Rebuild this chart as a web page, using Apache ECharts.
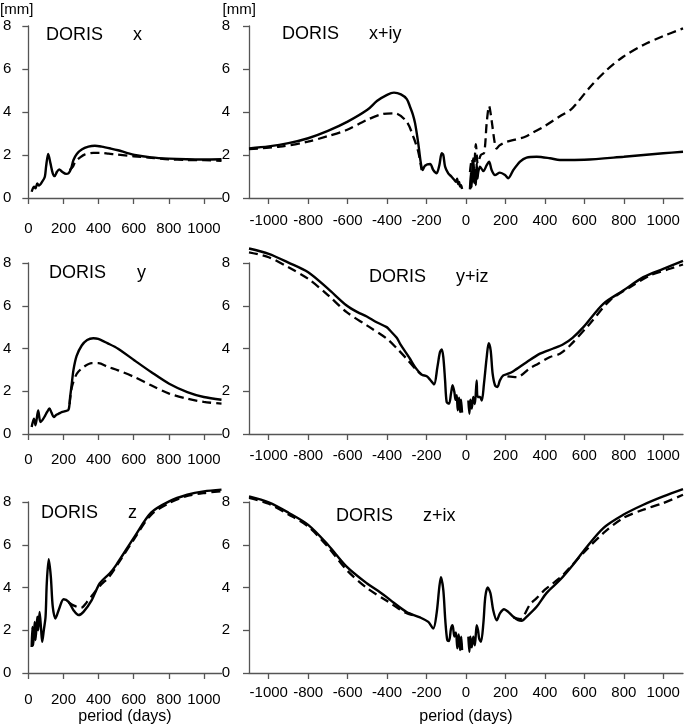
<!DOCTYPE html>
<html><head><meta charset="utf-8">
<script src="https://cdn.jsdelivr.net/npm/echarts@6/dist/echarts.min.js"></script>
<style>html,body{margin:0;padding:0;background:#fff}#c{width:685px;height:726px}</style>
</head><body><div id="c"></div>
<script>
// ---------- tick labels ----------
const leftTicks = [0, 200, 400, 600, 800, 1000];
const rightTicks = [-1000, -800, -600, -400, -200, 0, 200, 400, 600, 800, 1000];
const yMin = 0, yMax = 8, yStep = 2;
const panelTitles = ['x', 'x+iy', 'y', 'y+iz', 'z', 'z+ix'];

// ---------- DORIS x ----------
const xSolid = [[19,0.29],[32,0.53],[41,0.45],[51,0.68],[60,0.58],[79,0.76],[94,0.99],[101,1.46],[113,2.05],[126,1.61],[139,1.15],[150,1.02],[163,1.22],[176,1.33],[192,1.22],[215,1.12],[229,1.15],[244,1.38],[257,1.77],[276,2.05],[304,2.26],[342,2.39],[379,2.43],[417,2.39],[470,2.3],[511,2.22],[560,2.1],[605,2.0],[700,1.89],[800,1.83],[900,1.8],[1000,1.79],[1100,1.8]];
const xDashed = [[235,1.3],[254,1.46],[267,1.69],[295,1.89],[323,2.03],[370,2.1],[417,2.1],[458,2.06],[500,2.03],[600,1.94],[700,1.87],[800,1.8],[900,1.77],[1000,1.76],[1100,1.73]];

// ---------- DORIS x+iy ----------
const xySolidNeg = [[-1100,2.31],[-1000,2.4],[-900,2.55],[-800,2.78],[-700,3.12],[-600,3.55],[-500,4.1],[-450,4.52],[-400,4.8],[-365,4.9],[-330,4.82],[-300,4.6],[-284,4.25],[-270,3.9],[-258,3.47],[-242,2.54],[-230,1.69],[-220,1.3],[-208,1.5],[-182,1.58],[-166,1.3],[-149,1.15],[-135,1.53],[-123,2.08],[-115,2.0],[-106,1.46],[-90,1.15],[-73,0.99],[-60,0.85],[-50,0.75],[-45,0.9],[-40,0.65],[-35,0.75],[-30,0.53],[-25,0.6],[-20,0.42]];
const xySolidPos = [[20,0.4],[25,1.2],[28,0.5],[33,1.5],[37,1.85],[41,0.7],[45,1.3],[50,0.6],[54,1.61],[58,0.9],[62,1.2],[71,1.46],[88,1.25],[105,1.53],[117,1.69],[130,1.3],[147,1.07],[172,1.18],[198,1.07],[214,0.92],[240,1.3],[274,1.69],[307,1.88],[358,1.92],[426,1.85],[476,1.77],[600,1.78],[800,1.92],[1000,2.08],[1100,2.15]];
const xyDashedNeg = [[-1100,2.27],[-943,2.39],[-802,2.62],[-700,2.88],[-605,3.16],[-503,3.63],[-419,3.91],[-360,3.94],[-301,3.55],[-267,2.85],[-242,2.15],[-225,1.3]];
const xyDashedPos = [[20,1.2],[30,1.8],[40,1.4],[50,2.5],[60,1.6],[75,2.0],[92,2.1],[105,3.5],[117,4.28],[130,3.6],[145,2.6],[155,2.3],[170,2.45],[200,2.6],[250,2.72],[300,2.85],[340,3.05],[400,3.35],[476,3.8],[530,4.1],[561,4.4],[628,5.15],[713,5.95],[797,6.57],[899,7.12],[1000,7.53],[1100,7.89]];

// ---------- DORIS y ----------
const ySolid = [[19,0.33],[32,0.72],[41,0.41],[56,1.1],[69,0.56],[80,0.65],[95,0.85],[107,1.03],[120,1.19],[132,1.0],[145,0.79],[160,0.9],[173,0.95],[190,1.02],[210,1.07],[229,1.14],[238,1.73],[248,2.4],[257,3.0],[275,3.65],[304,4.14],[335,4.4],[370,4.48],[398,4.45],[450,4.25],[511,3.99],[605,3.44],[699,2.9],[802,2.35],[905,1.96],[999,1.73],[1100,1.6]];
const yDashed = [[235,1.4],[248,2.2],[276,2.82],[314,3.13],[361,3.32],[400,3.32],[450,3.15],[511,2.98],[605,2.66],[699,2.28],[802,1.89],[905,1.65],[999,1.5],[1100,1.42]];

// ---------- DORIS y+iz ----------
const yzSolidNeg = [[-1100,8.68],[-1000,8.43],[-900,8.02],[-800,7.57],[-700,6.8],[-605,6.01],[-550,5.7],[-503,5.5],[-453,5.23],[-402,5.0],[-385,4.84],[-351,4.5],[-334,4.22],[-301,3.76],[-284,3.52],[-258,3.13],[-225,2.78],[-199,2.7],[-182,2.54],[-162,2.32],[-145,3.13],[-132,3.83],[-123,3.96],[-115,3.6],[-106,2.51],[-98,1.5],[-86,1.42],[-76,1.89],[-68,2.28],[-59,1.96],[-53,1.6],[-47,1.81],[-42,1.11],[-35,1.7],[-30,1.03],[-25,1.6],[-20,1.0]];
const yzSolidPos = [[12,1.57],[17,0.95],[22,1.6],[29,1.19],[37,1.73],[45,1.4],[54,2.51],[59,1.73],[71,1.73],[80,1.57],[91,2.35],[105,3.6],[115,4.25],[125,3.91],[135,2.82],[147,2.28],[159,2.2],[172,2.51],[189,2.74],[214,2.82],[240,2.94],[307,3.36],[375,3.76],[442,4.0],[493,4.2],[540,4.5],[595,5.0],[696,6.09],[797,6.71],[899,7.34],[1000,7.73],[1100,8.1]];
const yzDashedNeg = [[-1100,8.5],[-1000,8.27],[-900,7.8],[-800,7.26],[-700,6.5],[-605,5.7],[-503,5.08],[-402,4.46],[-350,4.0],[-301,3.52],[-250,2.98],[-225,2.78]];
const yzDashedPos = [[210,2.7],[257,2.66],[324,3.08],[366,3.29],[426,3.6],[476,3.75],[527,4.14],[628,5.16],[730,6.25],[831,6.87],[933,7.42],[1034,7.73],[1100,7.93]];

// ---------- DORIS z ----------
const zSolid = [[19,1.22],[23,2.16],[28,1.3],[36,2.39],[41,1.54],[51,2.63],[56,2.0],[64,2.86],[73,2.0],[79,1.46],[88,2.0],[98,2.63],[105,4.2],[116,5.32],[128,4.51],[139,3.1],[154,2.55],[176,3.02],[201,3.45],[229,3.33],[257,2.94],[286,2.71],[314,2.86],[361,3.41],[407,4.2],[464,4.67],[500,5.05],[605,6.38],[699,7.5],[802,8.03],[905,8.34],[999,8.5],[1100,8.58]];
const zDashed = [[230,3.3],[260,3.15],[300,3.05],[332,3.3],[370,3.7],[410,4.1],[460,4.5],[510,5.1],[605,6.3],[699,7.4],[802,7.95],[905,8.28],[1000,8.42],[1100,8.5]];

// ---------- DORIS z+ix ----------
const zxSolidNeg = [[-1100,8.26],[-1000,7.98],[-900,7.5],[-800,6.93],[-700,6.0],[-605,4.98],[-503,4.2],[-436,3.78],[-402,3.55],[-368,3.3],[-301,2.85],[-233,2.6],[-191,2.39],[-166,2.08],[-149,2.79],[-135,4.04],[-127,4.48],[-115,3.88],[-105,2.47],[-95,1.54],[-86,1.5],[-76,2.08],[-68,2.24],[-59,1.7],[-51,1.9],[-44,1.15],[-37,1.8],[-30,1.07],[-24,1.7],[-20,1.07]];
const zxSolidPos = [[12,1.7],[17,0.99],[22,1.7],[29,1.2],[37,1.7],[45,1.3],[54,2.24],[61,2.0],[67,1.61],[76,1.46],[88,2.32],[98,3.57],[110,4.0],[124,3.73],[138,2.94],[156,2.47],[172,2.79],[193,2.98],[214,2.86],[240,2.63],[265,2.47],[282,2.44],[307,2.63],[358,3.1],[409,3.75],[476,4.35],[550,5.15],[595,5.7],[696,6.78],[797,7.4],[899,7.87],[1000,8.26],[1100,8.6]];
const zxDashedNeg = [[-1100,8.19],[-1000,7.92],[-900,7.42],[-800,6.85],[-700,5.9],[-605,4.82],[-503,3.98],[-402,3.38],[-343,3.02],[-301,2.8],[-250,2.66]];
const zxDashedPos = [[240,2.6],[274,2.52],[324,3.2],[358,3.5],[400,3.9],[442,4.2],[493,4.6],[595,5.62],[696,6.54],[797,7.25],[899,7.64],[1000,7.95],[1100,8.34]];

// ---------- layout ----------
const FONT = '"Liberation Sans", Arial, sans-serif';
const AXIS_COLOR = '#555';
const grids = [
  {left: 26, top: 26, width: 195.5, height: 172},
  {left: 249, top: 26, width: 434, height: 172},
  {left: 26, top: 263, width: 195.5, height: 171},
  {left: 249, top: 263, width: 434, height: 171},
  {left: 26, top: 502, width: 195.5, height: 171},
  {left: 249, top: 502, width: 434, height: 171}
];
const xLabelMargins = [23, 15, 18, 14, 19, 12.5];
const yLabelMargins = [17, 19, 17, 19, 17, 19];
const plain = v => String(v);

const xAxes = grids.map((g, i) => {
  const right = i % 2 === 1;
  const ticks = right ? rightTicks : leftTicks;
  return {
    type: 'value', gridIndex: i,
    min: right ? -1100 : 0, max: 1100,
    axisLine: {show: true, onZero: false, lineStyle: {color: AXIS_COLOR, width: 1.3}},
    axisTick: {show: true, length: 6, inside: false, customValues: ticks, lineStyle: {color: AXIS_COLOR, width: 1.3}},
    axisLabel: {show: true, customValues: ticks, formatter: plain, margin: xLabelMargins[i], fontSize: 15, fontFamily: FONT, color: '#000'},
    splitLine: {show: false},
    name: i >= 4 ? 'period (days)' : '',
    nameLocation: 'middle', nameGap: 36,
    nameTextStyle: {fontSize: 16, fontFamily: FONT, color: '#000'}
  };
});
const yAxes = grids.map((g, i) => ({
  type: 'value', gridIndex: i, min: yMin, max: yMax, interval: yStep,
  axisLine: {show: true, onZero: false, lineStyle: {color: AXIS_COLOR, width: 1.3}},
  axisTick: {show: true, length: 6, lineStyle: {color: AXIS_COLOR, width: 1.3}},
  axisLabel: {show: true, formatter: plain, margin: yLabelMargins[i], fontSize: 15, fontFamily: FONT, color: '#000'},
  splitLine: {show: false}
}));

function line(data, idx, dashed) {
  return {
    type: 'line', data: data, xAxisIndex: idx, yAxisIndex: idx,
    symbol: 'none', smooth: 0.3, clip: false, silent: true, animation: false,
    lineStyle: {color: '#000', width: dashed ? 2.3 : 2.4, type: dashed ? [9, 5] : 'solid'},
    z: dashed ? 2 : 3
  };
}
const series = [
  line(xDashed, 0, true), line(xSolid, 0, false),
  line(xyDashedNeg, 1, true), line(xyDashedPos, 1, true), line(xySolidNeg, 1, false), line(xySolidPos, 1, false),
  line(yDashed, 2, true), line(ySolid, 2, false),
  line(yzDashedNeg, 3, true), line(yzDashedPos, 3, true), line(yzSolidNeg, 3, false), line(yzSolidPos, 3, false),
  line(zDashed, 4, true), line(zSolid, 4, false),
  line(zxDashedNeg, 5, true), line(zxDashedPos, 5, true), line(zxSolidNeg, 5, false), line(zxSolidPos, 5, false)
];

const titlePos = [
  {dx: 46, tx: 133, y: 35},
  {dx: 282, tx: 369, y: 34},
  {dx: 49, tx: 137, y: 273},
  {dx: 369, tx: 456, y: 277},
  {dx: 41, tx: 128, y: 513},
  {dx: 336, tx: 423, y: 516}
];
function txt(x, y, s, size) {
  return {type: 'text', x: x, y: y, silent: true,
    style: {text: s, fontSize: size, fontFamily: FONT, fill: '#000', verticalAlign: 'middle', align: 'left'}};
}
const graphic = [];
titlePos.forEach((p, i) => {
  graphic.push(txt(p.dx, p.y, 'DORIS', 18));
  graphic.push(txt(p.tx, p.y, panelTitles[i], 18));
});
graphic.push(txt(0, 10, '[mm]', 15));
graphic.push(txt(222.5, 10, '[mm]', 15));

const chart = echarts.init(document.getElementById('c'), null, {renderer: 'canvas'});
chart.setOption({
  backgroundColor: '#fff',
  animation: false,
  grid: grids.map(g => Object.assign({containLabel: false}, g)),
  xAxis: xAxes, yAxis: yAxes, series: series, graphic: graphic
});
</script>
</body></html>
